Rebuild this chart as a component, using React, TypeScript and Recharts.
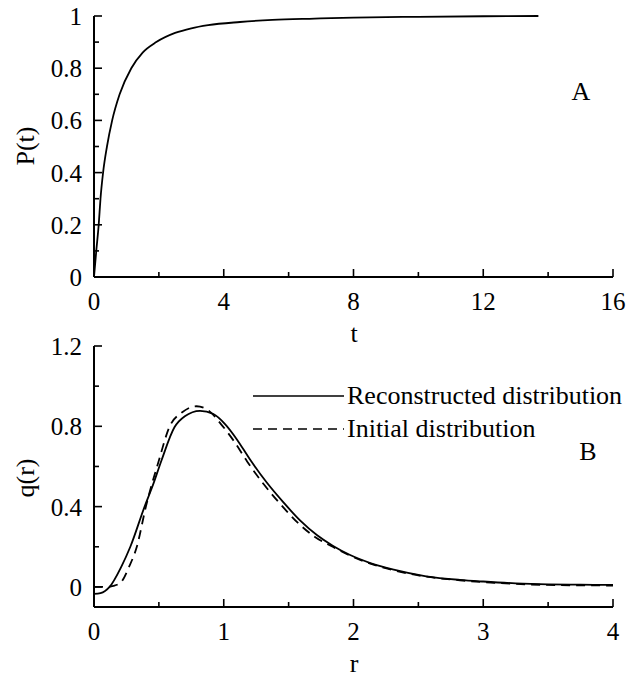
import { LineChart, Line, XAxis, YAxis, Legend } from "recharts";

const FONT = '"Liberation Serif", "Times New Roman", Times, serif';

// ── Panel A: P(t) ──────────────────────────────────────────────────────────
const tValues = [0, 0.07, 0.145, 0.2, 0.28, 0.4, 0.56, 0.79, 1.15, 1.5, 1.92, 2.5, 3, 3.52, 4.5, 5.5, 6.8, 8, 10, 12, 13.7];
const pValues = [0, 0.1, 0.2, 0.3, 0.4, 0.5, 0.6, 0.7, 0.8, 0.86, 0.9, 0.935, 0.953, 0.965, 0.977, 0.985, 0.99, 0.994, 0.997, 0.999, 1.0];
const tTicks = [0, 2, 4, 6, 8, 10, 12, 14, 16];
const tLabels = ["0", "", "4", "", "8", "", "12", "", "16"];
const pTicks = [0, 0.1, 0.2, 0.3, 0.4, 0.5, 0.6, 0.7, 0.8, 0.9, 1];
const pLabels = ["0", "", "0.2", "", "0.4", "", "0.6", "", "0.8", "", "1"];

// ── Panel B: q(r) ──────────────────────────────────────────────────────────
const rReconstructed = [0, 0.05, 0.12, 0.21, 0.28, 0.39, 0.45, 0.52, 0.62, 0.7, 0.817, 0.92, 1.01, 1.1, 1.2, 1.33, 1.46, 1.59, 1.72, 1.84, 1.97, 2.13, 2.31, 2.56, 2.82, 3.0, 3.25, 3.5, 3.75, 4.0];
const qReconstructed = [-0.035, -0.031, 0, 0.1, 0.2, 0.4, 0.5, 0.63, 0.795, 0.85, 0.877, 0.861, 0.811, 0.736, 0.637, 0.521, 0.421, 0.33, 0.257, 0.205, 0.16, 0.119, 0.086, 0.053, 0.035, 0.027, 0.018, 0.013, 0.011, 0.01];
const rInitial = [0, 0.1, 0.15, 0.21, 0.27, 0.33, 0.4, 0.5, 0.58, 0.68, 0.79, 0.88, 0.98, 1.08, 1.18, 1.31, 1.44, 1.57, 1.7, 1.84, 1.97, 2.13, 2.31, 2.56, 2.82, 3.0, 3.5, 4.0];
const qInitial = [0, 0, 0.005, 0.025, 0.1, 0.2, 0.4, 0.63, 0.795, 0.87, 0.9, 0.88, 0.81, 0.725, 0.625, 0.51, 0.41, 0.32, 0.25, 0.2, 0.157, 0.116, 0.083, 0.051, 0.033, 0.024, 0.01, 0.007];
const rTicks = [0, 0.5, 1, 1.5, 2, 2.5, 3, 3.5, 4];
const rLabels = ["0", "", "1", "", "2", "", "3", "", "4"];
const qTicks = [0, 0.2, 0.4, 0.6, 0.8, 1, 1.2];
const qLabels = ["0", "", "0.4", "", "0.8", "", "1.2"];
const seriesNames = ["Reconstructed distribution", "Initial distribution"];

const panelA = tValues.map((t, i) => ({ t, p: pValues[i] }));
const reconstructed = rReconstructed.map((r, i) => ({ r, q: qReconstructed[i] }));
const initial = rInitial.map((r, i) => ({ r, q: qInitial[i] }));

// inward ticks, long for labelled ones
function XTick({ x, y, payload, ticks, labels }: any) {
  const label = labels[ticks.indexOf(payload.value)] ?? "";
  return (
    <g>
      <line x1={x} x2={x} y1={y} y2={y - (label ? 8 : 5)} stroke="#000" strokeWidth={1.6} />
      {label && (
        <text x={x} y={y + 33} textAnchor="middle" fontFamily={FONT} fontSize={25} fill="#000">
          {label}
        </text>
      )}
    </g>
  );
}

function YTick({ x, y, payload, ticks, labels }: any) {
  const label = labels[ticks.indexOf(payload.value)] ?? "";
  return (
    <g>
      <line x1={x} x2={x + (label ? 8 : 5)} y1={y} y2={y} stroke="#000" strokeWidth={1.6} />
      {label && (
        <text x={x - 12} y={y + 9} textAnchor="end" fontFamily={FONT} fontSize={25} fill="#000">
          {label}
        </text>
      )}
    </g>
  );
}

function LegendBox({ payload }: any) {
  const items = [...(payload || [])].sort(
    (a: any, b: any) => seriesNames.indexOf(a.value) - seriesNames.indexOf(b.value)
  );
  return (
    <svg width={378} height={70} style={{ display: "block" }}>
      {items.map((entry: any, i: number) => {
        const y = 16 + i * 33;
        return (
          <g key={entry.value}>
            <line
              x1={3}
              x2={94}
              y1={y}
              y2={y}
              stroke="#000"
              strokeWidth={1.6}
              strokeDasharray={entry.payload?.strokeDasharray}
            />
            <text x={97} y={y + 8} fontFamily={FONT} fontSize={26} fill="#000">
              {entry.value}
            </text>
          </g>
        );
      })}
    </svg>
  );
}

const axisStroke = { stroke: "#000", strokeWidth: 2 };

function PanelA() {
  return (
    <LineChart width={628} height={350} margin={{ top: 16, right: 15, bottom: 33, left: 34 }}>
      <XAxis
        dataKey="t"
        type="number"
        domain={[0, 16]}
        ticks={tTicks}
        interval={0}
        height={40}
        tickSize={0}
        tickMargin={0}
        axisLine={axisStroke}
        tickLine={false}
        tick={(p: any) => <XTick {...p} ticks={tTicks} labels={tLabels} />}
      />
      <YAxis
        type="number"
        domain={[0, 1]}
        ticks={pTicks}
        interval={0}
        width={60}
        tickSize={0}
        tickMargin={0}
        axisLine={axisStroke}
        tickLine={false}
        tick={(p: any) => <YTick {...p} ticks={pTicks} labels={pLabels} />}
      />
      <Line
        data={panelA}
        dataKey="p"
        type="monotone"
        stroke="#000"
        strokeWidth={1.8}
        dot={false}
        isAnimationActive={false}
      />
      <text x={354} y={342} textAnchor="middle" fontFamily={FONT} fontSize={26} fill="#000">
        t
      </text>
      <text
        x={34}
        y={146}
        transform="rotate(-90, 34, 146)"
        textAnchor="middle"
        fontFamily={FONT}
        fontSize={26}
        fill="#000"
      >
        P(t)
      </text>
      <text x={581} y={100} textAnchor="middle" fontFamily={FONT} fontSize={26} fill="#000">
        A
      </text>
    </LineChart>
  );
}

function PanelB() {
  return (
    <LineChart width={628} height={349} margin={{ top: 16, right: 15, bottom: 32, left: 34 }}>
      <XAxis
        dataKey="r"
        type="number"
        domain={[0, 4]}
        ticks={rTicks}
        interval={0}
        height={40}
        tickSize={0}
        tickMargin={0}
        axisLine={axisStroke}
        tickLine={false}
        tick={(p: any) => <XTick {...p} ticks={rTicks} labels={rLabels} />}
      />
      <YAxis
        type="number"
        domain={[-0.1, 1.2]}
        ticks={qTicks}
        interval={0}
        width={60}
        tickSize={0}
        tickMargin={0}
        axisLine={axisStroke}
        tickLine={false}
        tick={(p: any) => <YTick {...p} ticks={qTicks} labels={qLabels} />}
      />
      <Line
        data={reconstructed}
        dataKey="q"
        name={seriesNames[0]}
        type="monotone"
        stroke="#000"
        strokeWidth={1.8}
        dot={false}
        isAnimationActive={false}
      />
      <Line
        data={initial}
        dataKey="q"
        name={seriesNames[1]}
        type="monotone"
        stroke="#000"
        strokeWidth={1.8}
        strokeDasharray="9 6"
        dot={false}
        isAnimationActive={false}
      />
      <Legend
        layout="vertical"
        align="center"
        verticalAlign="middle"
        content={<LegendBox />}
        wrapperStyle={{ left: 250, top: 50, width: 378, height: 70 }}
      />
      <text x={354} y={342} textAnchor="middle" fontFamily={FONT} fontSize={26} fill="#000">
        r
      </text>
      <text
        x={34}
        y={148}
        transform="rotate(-90, 34, 148)"
        textAnchor="middle"
        fontFamily={FONT}
        fontSize={26}
        fill="#000"
      >
        q(r)
      </text>
      <text x={588} y={130} textAnchor="middle" fontFamily={FONT} fontSize={26} fill="#000">
        B
      </text>
    </LineChart>
  );
}

export default function App() {
  return (
    <div style={{ position: "absolute", left: 0, top: 0, width: 628, height: 679, background: "#fff" }}>
      <div style={{ position: "absolute", left: 0, top: 0 }}>
        <PanelA />
      </div>
      <div style={{ position: "absolute", left: 0, top: 330 }}>
        <PanelB />
      </div>
    </div>
  );
}
